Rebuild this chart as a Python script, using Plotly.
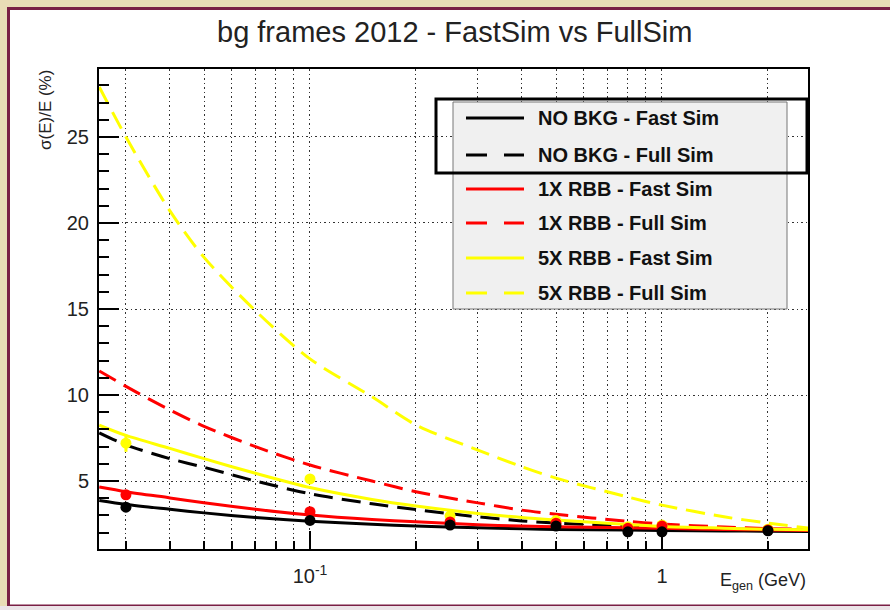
import plotly.graph_objects as go

# ---------------- data ----------------
curve_E = [0.0252, 0.03, 0.04, 0.05, 0.07, 0.1, 0.15, 0.2, 0.3, 0.4, 0.5, 0.8, 1.0, 1.5, 2.0, 2.6]

nobkg_fast = [3.87, 3.64, 3.36, 3.15, 2.88, 2.66, 2.49, 2.39, 2.28, 2.22, 2.19, 2.15, 2.13, 2.10, 2.08, 2.07]
nobkg_full = [7.80, 7.10, 6.30, 5.80, 5.00, 4.26, 3.68, 3.34, 2.92, 2.68, 2.56, 2.38, 2.31, 2.22, 2.17, 2.14]
rbb1_fast = [4.65, 4.38, 4.02, 3.74, 3.36, 3.02, 2.76, 2.63, 2.46, 2.38, 2.34, 2.28, 2.25, 2.19, 2.16, 2.13]
rbb1_full = [11.40, 10.50, 9.13, 8.18, 7.00, 5.93, 5.00, 4.38, 3.73, 3.31, 3.07, 2.66, 2.50, 2.33, 2.24, 2.19]
rbb5_fast = [8.25, 7.65, 6.90, 6.30, 5.45, 4.62, 3.93, 3.55, 3.12, 2.88, 2.74, 2.48, 2.36, 2.26, 2.20, 2.17]
rbb5_full = [27.9, 25.0, 20.7, 18.0, 14.9, 12.1, 9.9, 8.26, 6.80, 5.83, 5.17, 4.07, 3.60, 2.92, 2.56, 2.27]

point_E = [0.03, 0.1, 0.25, 0.5, 0.8, 1.0, 2.0]
nobkg_pts = [3.48, 2.71, 2.44, 2.38, 2.05, 2.05, 2.11]
rbb1_pts = [4.20, 3.22, 2.62, 2.55, 2.25, 2.38, 2.15]
rbb5_pts = [7.20, 5.12, 2.98, 2.70, 2.35, 2.44, 2.20]
rbb5_err = [0.50, 0.10, 0.08, 0.05, 0.05, 0.05, 0.05]

legend_labels = ["NO BKG - Fast Sim", "NO BKG - Full Sim",
                 "1X RBB - Fast Sim", "1X RBB - Full Sim",
                 "5X RBB - Fast Sim", "5X RBB - Full Sim"]

title_text = "bg frames 2012 - FastSim vs FullSim"
ytitle_text = "σ(E)/E (%)"
xtitle_text = "E<sub>gen</sub> (GeV)"

x_major_vals = [0.1, 1]
x_major_text = ["10<sup>-1</sup>", "1"]
x_minor_vals = [0.03, 0.04, 0.05, 0.06, 0.07, 0.08, 0.09,
                0.2, 0.3, 0.4, 0.5, 0.6, 0.7, 0.8, 0.9, 2]
y_major_vals = [5, 10, 15, 20, 25]

# ---------------- styling ----------------
W, H = 890, 610
L, R, T, B = 99, 808, 69, 549
FONT = "Liberation Sans, Arial, Helvetica, sans-serif"
BLACK, RED, YELLOW = "#000000", "#ff0000", "#ffff00"
DASH = "19px,9px"
GRID_DASH = "1.5px,3px"


def px(x):
    return (x - L) / (R - L)


def py(y):
    return (B - y) / (B - T)


fig = go.Figure()

curves = [
    (nobkg_fast, BLACK, "solid"),
    (nobkg_full, BLACK, DASH),
    (rbb1_fast, RED, "solid"),
    (rbb1_full, RED, DASH),
    (rbb5_fast, YELLOW, "solid"),
    (rbb5_full, YELLOW, DASH),
]
for (vals, col, dash), name in zip(curves, legend_labels):
    fig.add_trace(go.Scatter(
        x=curve_E, y=vals, mode="lines", name=name, showlegend=False,
        line=dict(color=col, width=3, dash=dash, shape="spline", smoothing=0.8),
    ))

# data points: yellow first, then red, then black on top
fig.add_trace(go.Scatter(
    x=point_E, y=rbb5_pts, mode="markers", showlegend=False,
    marker=dict(color=YELLOW, size=11),
    error_y=dict(type="data", array=rbb5_err, color=YELLOW, thickness=3, width=0),
))
fig.add_trace(go.Scatter(
    x=point_E, y=rbb1_pts, mode="markers", showlegend=False,
    marker=dict(color=RED, size=11),
))
fig.add_trace(go.Scatter(
    x=point_E, y=nobkg_pts, mode="markers", showlegend=False,
    marker=dict(color=BLACK, size=11),
))

shapes = []
# beige surround, white panel with maroon border
shapes.append(dict(type="rect", xref="paper", yref="paper", layer="below",
                   x0=px(8.5), x1=px(905), y0=py(606), y1=py(8.5),
                   fillcolor="white", line=dict(color="#7a1f45", width=3)))
shapes.append(dict(type="rect", xref="paper", yref="paper", layer="below",
                   x0=px(0), x1=px(900), y0=py(615), y1=py(606),
                   fillcolor="#ece4e8", line=dict(width=0)))

# legend box
shapes.append(dict(type="rect", xref="paper", yref="paper", layer="above",
                   x0=px(453), x1=px(787), y0=py(309), y1=py(102),
                   fillcolor="#f0f0f0", line=dict(color="#777777", width=1)))
legend_y = [118, 155, 189, 223, 258, 293]
leg_styles = [(BLACK, "solid"), (BLACK, "21px,17px"), (RED, "solid"), (RED, "21px,17px"),
              (YELLOW, "solid"), (YELLOW, "21px,17px")]
annotations = []
for yy, (col, dash), lab in zip(legend_y, leg_styles, legend_labels):
    shapes.append(dict(type="line", xref="paper", yref="paper", layer="above",
                       x0=px(466), x1=px(524), y0=py(yy), y1=py(yy),
                       line=dict(color=col, width=3, dash=dash)))
    annotations.append(dict(xref="paper", yref="paper", x=px(536), y=py(yy),
                            xanchor="left", yanchor="middle", showarrow=False,
                            text="<b>" + lab + "</b>",
                            font=dict(family=FONT, size=20, color="#111111")))
# highlight box around first two entries
shapes.append(dict(type="rect", xref="paper", yref="paper", layer="above",
                   x0=px(436), x1=px(807), y0=py(173), y1=py(99),
                   fillcolor="rgba(0,0,0,0)", line=dict(color="#000000", width=3)))

annotations.append(dict(xref="paper", yref="paper", x=px(454), y=py(32),
                        xanchor="center", yanchor="middle", showarrow=False,
                        text=title_text, font=dict(family=FONT, size=29, color="#222222")))
annotations.append(dict(xref="paper", yref="paper", x=px(45), y=py(110),
                        xanchor="center", yanchor="middle", showarrow=False, textangle=-90,
                        text=ytitle_text, font=dict(family=FONT, size=17, color="#222222")))
annotations.append(dict(xref="paper", yref="paper", x=px(808), y=py(581),
                        xanchor="right", yanchor="middle", showarrow=False,
                        text=xtitle_text, font=dict(family=FONT, size=18, color="#222222")))

fig.update_layout(
    width=W, height=H,
    margin=dict(l=L, r=W - R, t=T, b=H - B, pad=0),
    paper_bgcolor="#e9dcb6",
    plot_bgcolor="white",
    showlegend=False,
    shapes=shapes,
    annotations=annotations,
    font=dict(family=FONT, color="#222222"),
)

fig.update_xaxes(
    type="log", range=[-1.5994, 0.4148],
    tickmode="array", tickvals=x_major_vals, ticktext=x_major_text,
    ticks="inside", ticklen=18, tickwidth=1.5, tickcolor="black",
    tickfont=dict(family=FONT, size=20, color="#222222"), ticklabelstandoff=8,
    showgrid=True, gridcolor="#333333", gridwidth=1, griddash=GRID_DASH,
    minor=dict(tickmode="array", tickvals=x_minor_vals, ticks="inside", ticklen=8,
               tickwidth=1.5, tickcolor="black",
               showgrid=True, gridcolor="#333333", gridwidth=1, griddash=GRID_DASH),
    showline=True, linecolor="black", linewidth=2, mirror=True, zeroline=False,
)
fig.update_yaxes(
    range=[1.05, 28.95],
    tickmode="array", tickvals=y_major_vals,
    ticks="inside", ticklen=20, tickwidth=1.5, tickcolor="black",
    tickfont=dict(family=FONT, size=20, color="#222222"), ticklabelstandoff=4,
    showgrid=True, gridcolor="#333333", gridwidth=1, griddash=GRID_DASH,
    minor=dict(tick0=0, dtick=1, ticks="inside", ticklen=10, tickwidth=1.5,
               tickcolor="black", showgrid=False),
    showline=True, linecolor="black", linewidth=2, mirror=True, zeroline=False,
)

fig.write_html("out.html")
